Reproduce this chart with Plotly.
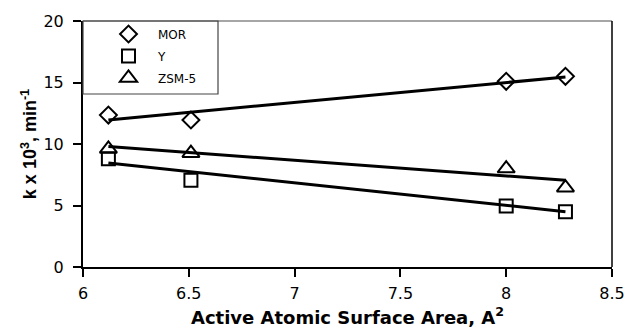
import plotly.graph_objects as go

# Data
area = [6.12, 6.51, 8.0, 8.28]
k_mor = [12.35, 11.95, 15.1, 15.5]
k_y = [8.8, 7.05, 4.95, 4.5]
k_zsm5 = [9.6, 9.25, 8.0, 6.45]

# Trendline end points
trend_x = [6.12, 8.28]
trend_mor = [11.95, 15.45]
trend_y = [8.45, 4.5]
trend_zsm5 = [9.8, 7.05]

x_ticks = [6, 6.5, 7, 7.5, 8, 8.5]
y_ticks = [0, 5, 10, 15, 20]

TICKFONT = "DejaVu Sans, sans-serif"
BOLD = "Liberation Sans, Arial, sans-serif"

fig = go.Figure()

for ty in [trend_mor, trend_y, trend_zsm5]:
    fig.add_trace(go.Scatter(x=trend_x, y=ty, mode="lines",
                             line=dict(color="black", width=3),
                             showlegend=False, hoverinfo="skip"))

series = [("MOR", k_mor, "diamond-open", 13, "legend"),
          ("Y", k_y, "square-open", 13, "legend2"),
          ("ZSM-5", k_zsm5, "triangle-up-open", 15, "legend3")]
for name, vals, sym, sz, lg in series:
    fig.add_trace(go.Scatter(x=area, y=vals, mode="markers", name=name, legend=lg,
                             marker=dict(symbol=sym, size=sz, color="black",
                                         line=dict(color="black", width=2))))

# plot area pixel geometry (for legend placement)
L, T, W, H = 83, 21, 529, 246
leg_x = (99 - L) / W
leg_common = dict(x=leg_x, xanchor="left", yanchor="middle", borderwidth=0,
                  bgcolor="rgba(0,0,0,0)", font=dict(family=TICKFONT, size=12),
                  itemwidth=49)

fig.update_layout(
    width=627, height=336,
    margin=dict(l=L, r=627 - L - W, t=T, b=336 - T - H, autoexpand=False),
    paper_bgcolor="white", plot_bgcolor="white",
    font=dict(family=TICKFONT, size=16, color="black"),
    legend=dict(y=(267 - 34) / H, **leg_common),
    legend2=dict(y=(267 - 56) / H, **leg_common),
    legend3=dict(y=(267 - 78) / H, **leg_common),
    xaxis=dict(range=[6, 8.5], tickvals=x_ticks, ticktext=[str(v) for v in x_ticks],
               showgrid=False, zeroline=False, showline=True, linecolor="black",
               linewidth=2, ticks="outside", ticklen=8, tickwidth=1.5,
               tickcolor="black", ticklabelstandoff=3, automargin=False,
               title=dict(text="<b>Active Atomic Surface Area, A<sup>2</sup></b>",
                          font=dict(family=TICKFONT, size=18), standoff=9)),
    yaxis=dict(range=[0, 20], tickvals=y_ticks,
               showgrid=False, zeroline=False, showline=True, linecolor="black",
               linewidth=2, ticks="outside", ticklen=8, tickwidth=1.5,
               tickcolor="black", ticklabelstandoff=6, automargin=False,
               title=dict(text="<b>k x 10<sup>3</sup>, min<sup>-1</sup></b>",
                          font=dict(family=BOLD, size=18), standoff=2)),
)

# plot frame (top gray, right black) and legend box
fig.add_shape(type="line", xref="x domain", yref="y domain", x0=0, x1=1, y0=1, y1=1,
              line=dict(color="#888", width=1.5))
fig.add_shape(type="line", xref="x domain", yref="y domain", x0=1, x1=1, y0=0, y1=1,
              line=dict(color="black", width=1.5))
fig.add_shape(type="rect", xref="x domain", yref="y domain",
              x0=0, x1=(218 - L) / W, y0=(267 - 94) / H, y1=1,
              line=dict(color="#444", width=1.2), fillcolor="rgba(0,0,0,0)")

fig.write_html("out.html")
